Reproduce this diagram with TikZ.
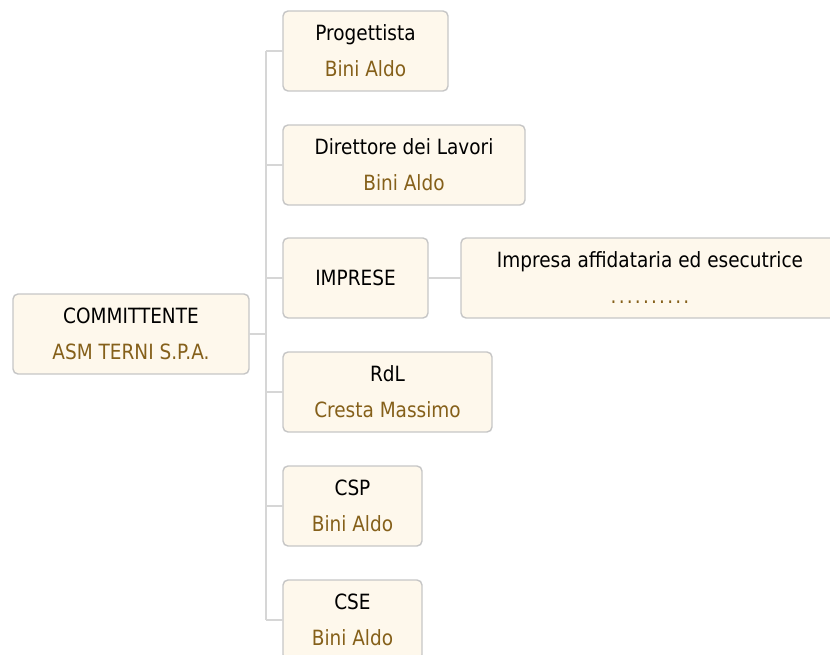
\documentclass[tikz,border=0pt]{standalone}
\usepackage{fontspec}
\setmainfont{DejaVu Sans}[FakeStretch=0.88]
\newcommand*{\boxfont}{\fontsize{21}{36}\selectfont}
\definecolor{cream}{HTML}{FEF8EC}
\definecolor{frame}{HTML}{C6C6C6}
\definecolor{wire}{HTML}{D6D6D6}
\definecolor{who}{HTML}{85601A}
\usepackage{tikz}
\usetikzlibrary{positioning}
\tikzstyle{base}=[x=1pt, y=1pt, inner sep=0pt, outer sep=0pt]
\tikzstyle{box}=[draw=frame, line width=1.4pt, fill=cream, rounded corners=5pt,
    minimum height=80pt, align=center, font=\boxfont, anchor=west]
\tikzstyle{link}=[draw=wire, line width=1.6pt]
\newcommand*{\who}[1]{{\color{who}#1}}

\begin{document}
\begin{tikzpicture}[base]
    \path [use as bounding box] (0,0) rectangle (830,-655);
        \node [box, minimum width=236pt] (comm) at (13,-334) {COMMITTENTE\\\who{ASM TERNI S.P.A.}};
        \node [box, minimum width=165pt] (prog) at (283,-51) {Progettista\\\who{Bini Aldo}};
        \node [box, minimum width=242pt] (dl) at (283,-165) {Direttore dei Lavori\\\who{Bini Aldo}};
        \node [box, minimum width=145pt] (imp) at (283,-278) {IMPRESE};
        \node [box, minimum width=378pt, right=33pt of imp] (aff) {Impresa affidataria ed esecutrice\\\who{.\kern2.2pt.\kern2.2pt.\kern2.2pt.\kern2.2pt.\kern2.2pt.\kern2.2pt.\kern2.2pt.\kern2.2pt.\kern2.2pt.}};
        \node [box, minimum width=209pt] (rdl) at (283,-392) {RdL\\\who{Cresta Massimo}};
        \node [box, minimum width=139pt] (csp) at (283,-506) {CSP\\\who{Bini Aldo}};
        \node [box, minimum width=139pt] (cse) at (283,-620) {CSE\\\who{Bini Aldo}};
        \coordinate (trunk) at (266,0);
        \draw [link] (prog.west -| trunk) -- (cse.west -| trunk);
        \draw [link] (comm.east) -- (comm.east -| trunk);
        \foreach \n in {prog,dl,imp,rdl,csp,cse}
            \draw [link] (\n.west -| trunk) -- (\n.west);
        \draw [link] (imp.east) -- (aff.west);
    \end{tikzpicture}
\end{document}
